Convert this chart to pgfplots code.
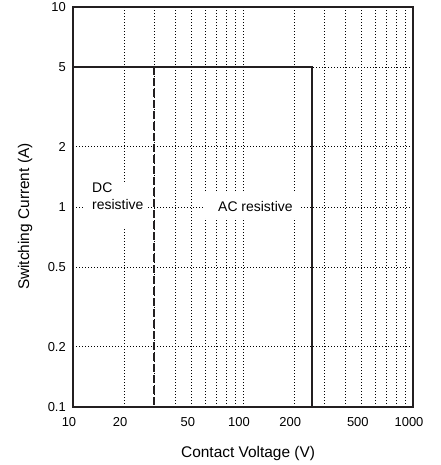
\documentclass[border=0pt]{standalone}
\usepackage{fontspec}
\setmainfont{Liberation Sans}
\usepackage{pgfplots}
\pgfplotsset{compat=1.18}
\definecolor{ink}{HTML}{231F20}
\begin{document}
\begin{tikzpicture}
\useasboundingbox (-73bp,-58bp) rectangle (368bp,407bp);
\begin{axis}[
  scale only axis, width=340bp, height=400bp,
  xmode=log, ymode=log,
  xmin=10, xmax=1000, ymin=0.1, ymax=10,
  xtick={10,20,50,100,200,500,1000},
  xticklabels={10,20,50,100,200,500,1000},
  ytick={0.1,0.2,0.5,1,2,5,10},
  yticklabels={0.1,0.2,0.5,1,2,5,10},
  minor xtick={30,40,60,70,80,90,300,400,600,700,800,900},
  minor ytick={},
  major tick length=0pt, minor tick length=0pt,
  xmajorgrids, xminorgrids, ymajorgrids,
  major grid style={black, line width=0.9bp, dash pattern=on 1.2bp off 1.8bp},
  minor grid style={black, line width=0.9bp, dash pattern=on 1.2bp off 1.8bp},
  axis line style={ink, line width=2.3bp},
  tick label style={font=\fontsize{13}{13}\selectfont, text=black},
  /pgf/number format/assume math mode=true,
  xticklabel style={anchor=north, inner sep=0pt, yshift=-10bp, xshift=-4bp},
  yticklabel style={anchor=east, inner sep=0pt, xshift=-7bp},
  xlabel={Contact Voltage (V)},
  ylabel={Switching Current (A)},
  label style={font=\fontsize{15.5}{16}\selectfont},
  xlabel style={at={(axis description cs:0.515,0)}, anchor=north, inner sep=0pt, yshift=-39bp},
  ylabel style={at={(axis description cs:-0.141,0.476)}, anchor=center, inner sep=0pt, rotate=0},
]
\fill[white] (rel axis cs:0.032,0.45) rectangle (rel axis cs:0.215,0.5625);
\fill[white] (rel axis cs:0.385,0.4725) rectangle (rel axis cs:0.668,0.5375);
\node[anchor=west, align=left, inner sep=0pt, font=\fontsize{14}{17}\selectfont] at (rel axis cs:0.056,0.526) {DC\\resistive};
\node[anchor=west, inner sep=0pt, font=\fontsize{14}{17}\selectfont] at (rel axis cs:0.4265,0.5) {AC resistive};
\addplot[ink, line width=2.1bp] coordinates {(10,5) (255,5) (255,0.1)};
\addplot[ink, line width=2.1bp, dash pattern=on 8bp off 3bp] coordinates {(30,5) (30,0.1)};
\end{axis}
\end{tikzpicture}
\end{document}
